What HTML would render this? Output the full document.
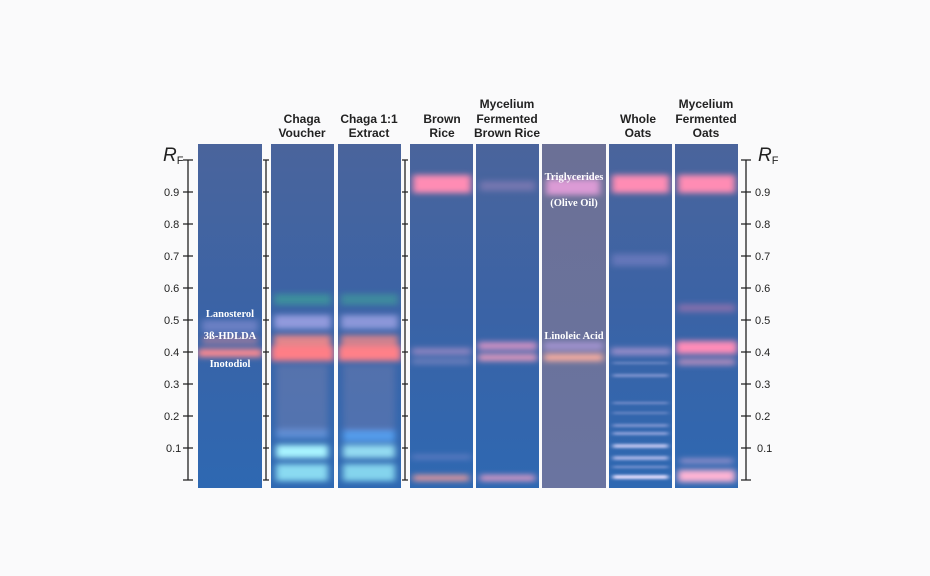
<!DOCTYPE html>
<html><head><meta charset="utf-8"><style>
html,body{margin:0;padding:0;background:#fff;}
svg{display:block;}
.h{font-family:"Liberation Sans",sans-serif;font-weight:bold;font-size:12px;fill:#222;text-anchor:middle;}
.t{font-family:"Liberation Sans",sans-serif;font-size:11px;fill:#222;}
.w{font-family:"Liberation Serif",serif;font-weight:bold;font-size:10.5px;fill:#fff;text-anchor:middle;}
</style></head><body>
<svg width="930" height="576" viewBox="0 0 930 576" xmlns="http://www.w3.org/2000/svg">
<defs>
<linearGradient id="lg" x1="0" y1="0" x2="0" y2="1">
<stop offset="0" stop-color="#4a649c"/><stop offset="0.5" stop-color="#3a63a6"/><stop offset="1" stop-color="#2e68b2"/></linearGradient>
<linearGradient id="lg6" x1="0" y1="0" x2="0" y2="1">
<stop offset="0" stop-color="#6b7096"/><stop offset="1" stop-color="#6a74a0"/></linearGradient>
<filter id="b" x="-30%" y="-300%" width="160%" height="700%"><feGaussianBlur stdDeviation="3.5 3"/></filter>
<filter id="b2" x="-30%" y="-300%" width="160%" height="700%"><feGaussianBlur stdDeviation="2.5 1.3"/></filter>
</defs>
<rect x="0" y="0" width="930" height="576" fill="#fafafb"/>
<rect x="198" y="144" width="64" height="344" fill="url(#lg)"/>
<rect x="271" y="144" width="63" height="344" fill="url(#lg)"/>
<rect x="338" y="144" width="63" height="344" fill="url(#lg)"/>
<rect x="410" y="144" width="63" height="344" fill="url(#lg)"/>
<rect x="476" y="144" width="63" height="344" fill="url(#lg)"/>
<rect x="542" y="144" width="64" height="344" fill="url(#lg6)"/>
<rect x="609" y="144" width="63" height="344" fill="url(#lg)"/>
<rect x="675" y="144" width="63" height="344" fill="url(#lg)"/>
<svg x="198" y="144" width="64" height="344" overflow="hidden"><g filter="url(#b)" transform="translate(-198,-144)">
<rect x="202" y="320" width="56" height="12" fill="#9c9ce0" opacity="0.5"/>
<rect x="202" y="336" width="56" height="9" fill="#d88a9c" opacity="0.5"/>
<rect x="198" y="349" width="64" height="8" fill="#ff8a90" opacity="1"/>
</g></svg>
<svg x="271" y="144" width="63" height="344" overflow="hidden"><g filter="url(#b)" transform="translate(-271,-144)">
<rect x="274" y="294" width="57" height="11" fill="#3fa49a" opacity="0.65"/>
<rect x="274" y="315" width="57" height="14" fill="#a7a8ea" opacity="0.8"/>
<rect x="274" y="335" width="57" height="12" fill="#f48a88" opacity="0.9"/>
<rect x="271" y="346" width="63" height="15" fill="#ff7e86" opacity="1"/>
<rect x="276" y="365" width="52" height="70" fill="#b59cb8" opacity="0.25"/>
<rect x="276" y="429" width="52" height="10" fill="#6ca0e8" opacity="0.6"/>
<rect x="276" y="445" width="52" height="13" fill="#a8f4ff" opacity="1"/>
<rect x="276" y="464" width="52" height="17" fill="#8ee0f4" opacity="0.95"/>
</g></svg>
<svg x="338" y="144" width="63" height="344" overflow="hidden"><g filter="url(#b)" transform="translate(-338,-144)">
<rect x="341" y="294" width="57" height="11" fill="#3fa49a" opacity="0.6"/>
<rect x="341" y="315" width="57" height="14" fill="#a7a8ea" opacity="0.75"/>
<rect x="341" y="335" width="57" height="12" fill="#f48a88" opacity="0.8"/>
<rect x="338" y="346" width="63" height="15" fill="#ff8088" opacity="1"/>
<rect x="343" y="365" width="52" height="65" fill="#b59cb8" opacity="0.22"/>
<rect x="343" y="430" width="52" height="12" fill="#5aa4f4" opacity="0.85"/>
<rect x="343" y="445" width="52" height="13" fill="#9ee8f8" opacity="0.9"/>
<rect x="343" y="464" width="52" height="17" fill="#8ee0f4" opacity="0.9"/>
</g></svg>
<svg x="410" y="144" width="63" height="344" overflow="hidden"><g filter="url(#b)" transform="translate(-410,-144)">
<rect x="413" y="175" width="58" height="18" fill="#ff8cb4" opacity="1"/>
<rect x="412" y="348" width="59" height="7" fill="#c49ad0" opacity="0.6"/>
<rect x="412" y="359" width="59" height="5" fill="#b8a4d8" opacity="0.45"/>
<rect x="412" y="455" width="59" height="4" fill="#b0a0e0" opacity="0.4"/>
<rect x="413" y="475" width="56" height="6" fill="#f09c9c" opacity="0.95"/>
</g></svg>
<svg x="476" y="144" width="63" height="344" overflow="hidden"><g filter="url(#b)" transform="translate(-476,-144)">
<rect x="480" y="181" width="55" height="10" fill="#b890c8" opacity="0.4"/>
<rect x="478" y="342" width="59" height="8" fill="#e898c8" opacity="0.85"/>
<rect x="478" y="354" width="59" height="7" fill="#f4a0c0" opacity="0.9"/>
<rect x="480" y="475" width="55" height="6" fill="#f0a0c8" opacity="0.9"/>
</g></svg>
<svg x="542" y="144" width="64" height="344" overflow="hidden"><g filter="url(#b)" transform="translate(-542,-144)">
<rect x="546" y="179" width="54" height="16" fill="#e8a0dc" opacity="0.9"/>
<rect x="544" y="342" width="59" height="8" fill="#b8a0e4" opacity="0.7"/>
<rect x="544" y="354" width="59" height="7" fill="#ffb0a0" opacity="1"/>
</g></svg>
<svg x="609" y="144" width="63" height="344" overflow="hidden"><g filter="url(#b)" transform="translate(-609,-144)">
<rect x="612" y="175" width="57" height="18" fill="#ff8cb4" opacity="1"/>
<rect x="612" y="254" width="57" height="12" fill="#8a8ad0" opacity="0.5"/>
<rect x="611" y="348" width="60" height="7" fill="#c4a0d8" opacity="0.7"/>
</g>
<g filter="url(#b2)" transform="translate(-609,-144)">
<rect x="613" y="362" width="55" height="2" fill="#b0b4e8" opacity="0.5"/>
<rect x="613" y="374" width="55" height="3" fill="#b0b4e8" opacity="0.6"/>
<rect x="613" y="402" width="55" height="2" fill="#b0b4e8" opacity="0.6"/>
<rect x="613" y="412" width="55" height="2" fill="#b0b4e8" opacity="0.5"/>
<rect x="613" y="424" width="55" height="3" fill="#b0b4e8" opacity="0.6"/>
<rect x="613" y="432" width="55" height="3" fill="#b8bcf0" opacity="0.7"/>
<rect x="613" y="444" width="55" height="4" fill="#d0d0f8" opacity="0.85"/>
<rect x="613" y="456" width="55" height="4" fill="#c8c8f4" opacity="0.75"/>
<rect x="613" y="466" width="55" height="2" fill="#c0c0f0" opacity="0.6"/>
<rect x="613" y="475" width="55" height="4" fill="#e8e0ff" opacity="0.95"/>
</g></svg>
<svg x="675" y="144" width="63" height="344" overflow="hidden"><g filter="url(#b)" transform="translate(-675,-144)">
<rect x="678" y="175" width="57" height="18" fill="#ff8cb4" opacity="1"/>
<rect x="678" y="304" width="57" height="8" fill="#c87ab4" opacity="0.5"/>
<rect x="676" y="341" width="61" height="13" fill="#ff8cb8" opacity="1"/>
<rect x="678" y="359" width="57" height="6" fill="#f0a0c8" opacity="0.7"/>
<rect x="680" y="459" width="53" height="4" fill="#e0b0e0" opacity="0.7"/>
<rect x="678" y="470" width="57" height="12" fill="#ffb4d4" opacity="1"/>
</g></svg>
<text class="w" x="230" y="317">Lanosterol</text>
<text class="w" x="230" y="339">3ß-HDLDA</text>
<text class="w" x="230" y="367">Inotodiol</text>
<text class="w" x="574" y="180">Triglycerides</text>
<text class="w" x="574" y="206">(Olive Oil)</text>
<text class="w" x="574" y="339">Linoleic Acid</text>
<text class="h" x="302" y="123">Chaga</text><text class="h" x="302" y="137">Voucher</text>
<text class="h" x="369" y="123">Chaga 1:1</text><text class="h" x="369" y="137">Extract</text>
<text class="h" x="442" y="123">Brown</text><text class="h" x="442" y="137">Rice</text>
<text class="h" x="507" y="108">Mycelium</text><text class="h" x="507" y="123">Fermented</text><text class="h" x="507" y="137">Brown Rice</text>
<text class="h" x="638" y="123">Whole</text><text class="h" x="638" y="137">Oats</text>
<text class="h" x="706" y="108">Mycelium</text><text class="h" x="706" y="123">Fermented</text><text class="h" x="706" y="137">Oats</text>
<g stroke="#222" stroke-width="1.3" fill="none">
<path d="M188 160V480 M183 160H193 M183 192H193 M183 224H193 M183 256H193 M183 288H193 M183 320H193 M183 352H193 M183 384H193 M183 416H193 M183 448H193 M183 480H193"/>
<path d="M266 160V480 M263 160H269 M263 192H269 M263 224H269 M263 256H269 M263 288H269 M263 320H269 M263 352H269 M263 384H269 M263 416H269 M263 448H269 M263 480H269"/>
<path d="M405 160V480 M402 160H408 M402 192H408 M402 224H408 M402 256H408 M402 288H408 M402 320H408 M402 352H408 M402 384H408 M402 416H408 M402 448H408 M402 480H408"/>
<path d="M746 160V480 M741 160H751 M741 192H751 M741 224H751 M741 256H751 M741 288H751 M741 320H751 M741 352H751 M741 384H751 M741 416H751 M741 448H751 M741 480H751"/>
</g>
<g class="t">
<text x="164" y="196">0.9</text><text x="164" y="228">0.8</text><text x="164" y="260">0.7</text><text x="164" y="292">0.6</text><text x="164" y="324">0.5</text><text x="164" y="356">0.4</text><text x="164" y="388">0.3</text><text x="164" y="420">0.2</text><text x="166" y="452">0.1</text>
<text x="755" y="196">0.9</text><text x="755" y="228">0.8</text><text x="755" y="260">0.7</text><text x="755" y="292">0.6</text><text x="755" y="324">0.5</text><text x="755" y="356">0.4</text><text x="755" y="388">0.3</text><text x="755" y="420">0.2</text><text x="757" y="452">0.1</text>
</g>
<text x="163" y="161" font-family="Liberation Sans,sans-serif" font-style="italic" font-size="19" fill="#222">R<tspan font-style="normal" font-size="11" dy="3">F</tspan></text>
<text x="758" y="161" font-family="Liberation Sans,sans-serif" font-style="italic" font-size="19" fill="#222">R<tspan font-style="normal" font-size="11" dy="3">F</tspan></text>
</svg>
</body></html>
